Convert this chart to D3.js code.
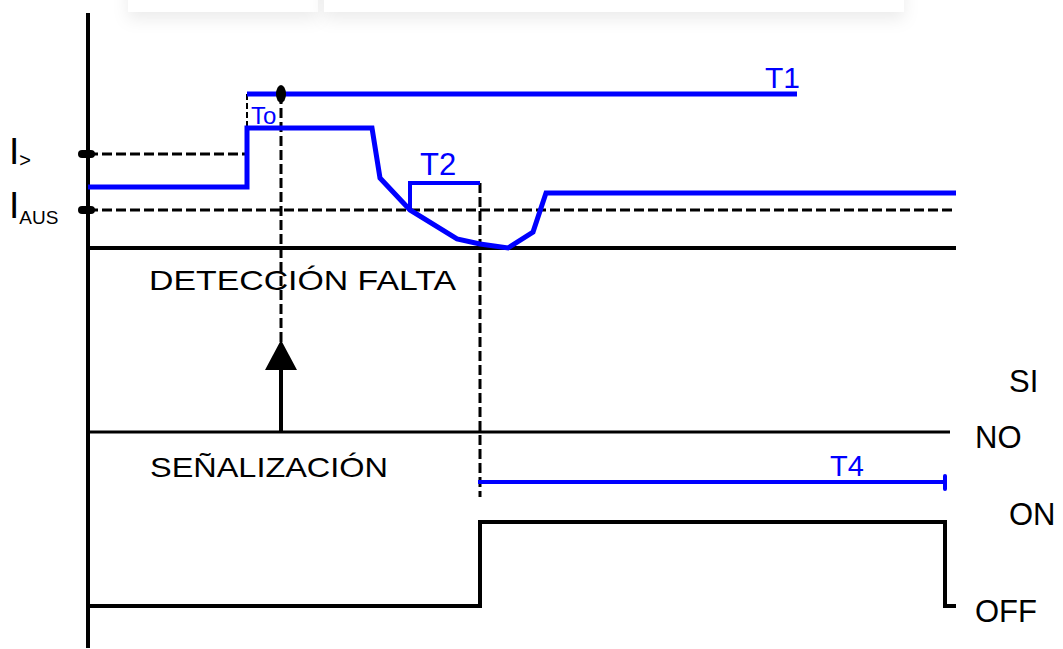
<!DOCTYPE html>
<html>
<head>
<meta charset="utf-8">
<script src="https://cdn.jsdelivr.net/npm/d3@7"></script>
<style>
	body { margin: 0; background: #fff; }
	svg { display: block; font-family: "Liberation Sans", Arial, sans-serif; }
</style>
</head>
<body>
<div id="chart"></div>
<script>
// time axis in arbitrary units, current in arbitrary units
const currentTimes = [0, 159, 159, 284, 292, 322, 369, 392, 420, 445, 458, 868];
const currentValues = [6.1, 6.1, 12.0, 12.0, 7.0, 3.8, 0.9, 0.4, 0.0, 1.6, 5.5, 5.5];
const thresholdNames = ["I>", "IAUS"];
const thresholdValues = [9.4, 3.8];
const thresholdEnds = [159, 868];
const t1Level = 15.4;
const t1Span = [159, 709];
const toSpan = [159, 193];
const t2Level = 6.5;
const t2Span = [322, 392];
const t4Span = [392, 857];
const detectTimes = [0, 862];
const detectStates = ["NO", "SI"];
const signalTimes = [0, 392, 392, 857, 857, 868];
const signalValues = [0, 0, 1, 1, 0, 0];
const signalStates = ["OFF", "ON"];

const width = 1063, height = 649;
const svg = d3.select("#chart").append("svg")
	.attr("width", width).attr("height", height);

const x = d3.scaleLinear().domain([0, 868]).range([88, 956]);
const yCur = d3.scaleLinear().domain([0, 10]).range([248, 148]);
const yDet = d3.scalePoint().domain(detectStates).range([432, 380]);
const ySig = d3.scaleLinear().domain([0, 1]).range([606, 522]);

// faint shadowed boxes at the top edge
const defs = svg.append("defs");
const f = defs.append("filter").attr("id", "shadow")
	.attr("x", "-10%").attr("y", "-50%").attr("width", "120%").attr("height", "250%");
f.append("feDropShadow").attr("dx", 0).attr("dy", 7).attr("stdDeviation", 8)
	.attr("flood-color", "#000").attr("flood-opacity", 0.08);
svg.append("rect").attr("x", 128).attr("y", -30).attr("width", 190).attr("height", 42)
	.attr("fill", "#fff").attr("filter", "url(#shadow)");
svg.append("rect").attr("x", 324).attr("y", -30).attr("width", 580).attr("height", 42)
	.attr("fill", "#fff").attr("filter", "url(#shadow)");

const line = d3.line().x(d => x(d[0])).y(d => d[1]);
const blue = "#0000ff";

// vertical axis
svg.append("line").attr("x1", x(0)).attr("x2", x(0)).attr("y1", 13).attr("y2", 648)
	.attr("stroke", "#000").attr("stroke-width", 4);

// current baseline
svg.append("line").attr("x1", x(0)).attr("x2", x(868))
	.attr("y1", yCur(0)).attr("y2", yCur(0))
	.attr("stroke", "#000").attr("stroke-width", 4);

// threshold dashed lines + markers
thresholdValues.forEach((v, i) => {
	svg.append("line").attr("x1", x(0)).attr("x2", x(thresholdEnds[i]))
		.attr("y1", yCur(v)).attr("y2", yCur(v))
		.attr("stroke", "#000").attr("stroke-width", 3).attr("stroke-dasharray", "10,4");
	svg.append("rect").attr("x", x(0) - 10).attr("y", yCur(v) - 4)
		.attr("width", 17).attr("height", 8).attr("rx", 4).attr("fill", "#000");
});

// threshold labels
const lab1 = svg.append("text").attr("x", 9).attr("y", yCur(thresholdValues[0]) + 10)
	.attr("font-size", 37).attr("fill", "#000");
lab1.append("tspan").text("I");
lab1.append("tspan").attr("font-size", 20).attr("dy", 3).text(thresholdNames[0].slice(1));
const lab2 = svg.append("text").attr("x", 9).attr("y", yCur(thresholdValues[1]) + 8)
	.attr("font-size", 37).attr("fill", "#000");
lab2.append("tspan").text("I");
lab2.append("tspan").attr("font-size", 19).attr("dy", 6).text(thresholdNames[1].slice(1));

// To dashed marker
svg.append("line").attr("x1", x(toSpan[0])).attr("x2", x(toSpan[0]))
	.attr("y1", yCur(t1Level)).attr("y2", yCur(12))
	.attr("stroke", "#000").attr("stroke-width", 2).attr("stroke-dasharray", "6,3");

// long dashed vertical from To end down to arrow
svg.append("line").attr("x1", x(toSpan[1])).attr("x2", x(toSpan[1]))
	.attr("y1", yCur(t1Level)).attr("y2", 342)
	.attr("stroke", "#000").attr("stroke-width", 3).attr("stroke-dasharray", "10,4");

// T2 dashed vertical down to T4
svg.append("line").attr("x1", x(t2Span[1])).attr("x2", x(t2Span[1]))
	.attr("y1", yCur(t2Level)).attr("y2", 497)
	.attr("stroke", "#000").attr("stroke-width", 3).attr("stroke-dasharray", "10,4");

// current trace
svg.append("path")
	.attr("d", line(currentTimes.map((t, i) => [t, yCur(currentValues[i])])))
	.attr("fill", "none").attr("stroke", blue).attr("stroke-width", 5);

// T1
svg.append("line").attr("x1", x(t1Span[0])).attr("x2", x(t1Span[1]))
	.attr("y1", yCur(t1Level)).attr("y2", yCur(t1Level))
	.attr("stroke", blue).attr("stroke-width", 5);
svg.append("ellipse").attr("cx", x(toSpan[1])).attr("cy", yCur(t1Level))
	.attr("rx", 5).attr("ry", 9).attr("fill", "#000");
svg.append("text").attr("x", x(t1Span[1]) - 32).attr("y", yCur(t1Level) - 6)
	.attr("font-size", 30).attr("fill", blue).text("T1");
svg.append("text").attr("x", x(toSpan[0]) + 4).attr("y", yCur(12) - 4)
	.attr("font-size", 24).attr("fill", blue).text("To");

// T2 bracket
svg.append("path")
	.attr("d", line([[t2Span[0], yCur(thresholdValues[1])], [t2Span[0], yCur(t2Level)], [t2Span[1], yCur(t2Level)]]))
	.attr("fill", "none").attr("stroke", blue).attr("stroke-width", 4);
svg.append("text").attr("x", x(t2Span[0]) + 10).attr("y", yCur(t2Level) - 8)
	.attr("font-size", 31).attr("fill", blue).text("T2");

// detection panel
svg.append("text").attr("x", 149).attr("y", 290).attr("font-size", 28)
	.attr("textLength", 307).attr("lengthAdjust", "spacingAndGlyphs").text("DETECCIÓN FALTA");
svg.append("line").attr("x1", x(detectTimes[0])).attr("x2", x(detectTimes[1]))
	.attr("y1", yDet("NO")).attr("y2", yDet("NO"))
	.attr("stroke", "#000").attr("stroke-width", 3);
svg.append("line").attr("x1", x(toSpan[1])).attr("x2", x(toSpan[1]))
	.attr("y1", yDet("NO")).attr("y2", 366)
	.attr("stroke", "#000").attr("stroke-width", 4);
svg.append("path")
	.attr("d", `M${x(toSpan[1])},340 L${x(toSpan[1]) + 16},370 L${x(toSpan[1]) - 16},370 Z`)
	.attr("fill", "#000");
svg.append("text").attr("x", 1009).attr("y", yDet("SI") + 12).attr("font-size", 31).text("SI");
svg.append("text").attr("x", 975).attr("y", yDet("NO") + 16).attr("font-size", 31).text("NO");

// signalling panel
svg.append("text").attr("x", 150).attr("y", 477).attr("font-size", 28)
	.attr("textLength", 238).attr("lengthAdjust", "spacingAndGlyphs").text("SEÑALIZACIÓN");
svg.append("line").attr("x1", x(t4Span[0]) - 2).attr("x2", x(t4Span[1]))
	.attr("y1", 482).attr("y2", 482)
	.attr("stroke", blue).attr("stroke-width", 4);
svg.append("line").attr("x1", x(t4Span[1])).attr("x2", x(t4Span[1]))
	.attr("y1", 476).attr("y2", 489)
	.attr("stroke", blue).attr("stroke-width", 4).attr("stroke-linecap", "round");
svg.append("text").attr("x", x(t4Span[1]) - 115).attr("y", 476).attr("font-size", 29)
	.attr("fill", blue).text("T4");
svg.append("path")
	.attr("d", line(signalTimes.map((t, i) => [t, ySig(signalValues[i])])))
	.attr("fill", "none").attr("stroke", "#000").attr("stroke-width", 4);
svg.append("text").attr("x", 1009).attr("y", ySig(1) + 3).attr("font-size", 31).text("ON");
svg.append("text").attr("x", 975).attr("y", ySig(0) + 16).attr("font-size", 31).text("OFF");
</script>
</body>
</html>
